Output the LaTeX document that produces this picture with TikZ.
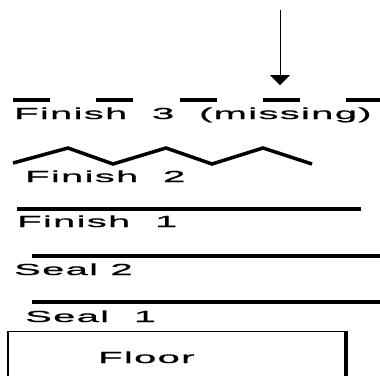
\documentclass[tikz,border=0pt]{standalone}
\usepackage{fontspec}
\usetikzlibrary{arrows.meta}
\newfontfamily\diagfont[FakeStretch=2.5,LetterSpace=8,FakeBold=0.8]{Liberation Sans}

\begin{document}
\begin{tikzpicture}[
       x=1pt, y=-1pt,
       label/.style={font=\diagfont\fontsize{16}{19}\selectfont, anchor=base west, inner sep=0pt},
       layer/.style={line width=3.5pt},
       pointer/.style={-{Triangle[width=20pt,length=10pt]}, line width=1pt}
   ]
   \useasboundingbox (0,0) rectangle (380,376);

   % arrow down to the missing coat
   \coordinate (arrowtop) at (280,10);
   \coordinate (arrowtip) at (280,85);
   \draw[pointer] (arrowtop) -- (arrowtip);

   % coats, top to bottom
   \draw[layer, dash pattern=on 37pt off 46.3pt] (13,100) -- (380,100);
   \node[label] (fin3) at (14,119) {Finish\ \ 3\ \ (missing)};

   \draw[layer] (13,163) -- (68,148) -- (113,164) -- (166,148) -- (212,164) -- (263,148) -- (312,164);
   \node[label] (fin2) at (25,182) {Finish\ \ 2};

   \draw[layer] (17,209) -- (361,209);
   \node[label] (fin1) at (17,227) {Finish\ \ 1};

   \draw[layer] (32,256) -- (380,256);
   \node[label] (seal2) at (14,275) {Seal 2};

   \draw[layer] (32,302) -- (380,302);
   \node[label] (seal1) at (25,322) {Seal\ \ 1};

   % floor
   \draw[line width=1.5pt] (8,376) -- (8,331.5) -- (345,331.5);
   \draw[line width=4pt] (345.5,331) -- (345.5,376);
   \node[label] (floor) at (98,363) {Floor};
\end{tikzpicture}
\end{document}
